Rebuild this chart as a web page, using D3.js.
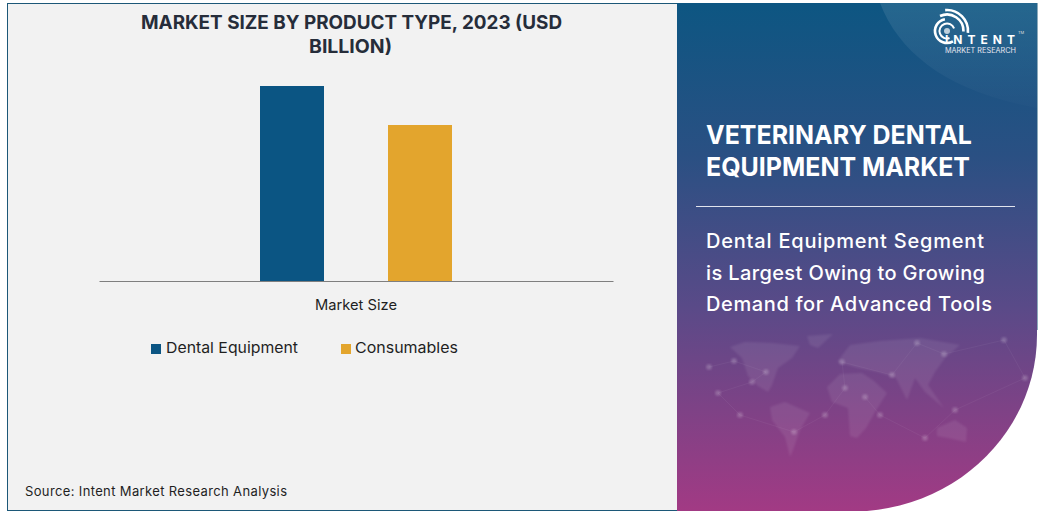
<!DOCTYPE html>
<html><head><meta charset="utf-8">
<script src="https://cdn.jsdelivr.net/npm/d3@7"></script>
<style>html,body{margin:0;padding:0;background:#fff}svg{display:block}text{font-family:Inter,"Open Sans",sans-serif}</style>
</head><body><div id="c"></div>
<script>
const titleLines = ["MARKET SIZE BY PRODUCT TYPE, 2023 (USD","BILLION)"];
const titleWidths = [421,83];
const categories = ["Market Size"];
const seriesNames = ["Dental Equipment","Consumables"];
const seriesValues = [1.0,0.8];
const seriesColors = ["#0b5583","#e3a52d"];
const source = "Source: Intent Market Research Analysis";
const heading = ["VETERINARY DENTAL","EQUIPMENT MARKET"];
const headingWidths = [266,264];
const subheading = ["Dental Equipment Segment","is Largest Owing to Growing","Demand for Advanced Tools"];
const subWidths = [278,279,286];
const legendWidths = [132,103];
const continents = [
 "M730,347 L745,342 L772,343 L800,346 L792,358 L778,368 L772,385 L768,392 L758,386 L748,376 L742,358Z",
 "M807,336 L833,334 L818,348 L810,345Z",
 "M770,407 L785,402 L810,413 L800,430 L793,450 L790,457 L785,437 L772,420Z",
 "M827,387 L840,374 L862,373 L874,381 L887,393 L875,412 L866,428 L857,438 L850,436 L848,408 L832,402Z",
 "M837,362 L850,345 L880,341 L920,338 L960,345 L945,358 L935,372 L928,385 L944,408 L925,392 L915,378 L907,400 L896,378 L878,372 L858,368Z",
 "M937,428 L955,420 L967,428 L966,442 L948,438 L937,436Z"
];
const nodes = [[709,367],[734,361],[766,372],[752,382],[718,393],[740,415],[794,432],[825,415],[845,388],[842,362],[892,375],[917,343],[944,354],[1004,340],[1025,378],[955,410],[925,438],[880,415],[865,397]];

const W=1043,H=513;
const svg=d3.select("#c").append("svg").attr("width",W).attr("height",H);
const defs=svg.append("defs");
const g=defs.append("linearGradient").attr("id","pg").attr("x1",0).attr("y1",0).attr("x2",0).attr("y2",1);
[[0,"#0d5682"],[.3,"#2a5083"],[.6,"#5a4a88"],[1,"#a23a84"]].forEach(d=>g.append("stop").attr("offset",d[0]).attr("stop-color",d[1]));
const g2=defs.append("linearGradient").attr("id","arc").attr("x1",0).attr("y1",0).attr("x2",0).attr("y2",1);
g2.append("stop").attr("offset",0).attr("stop-color","#fff").attr("stop-opacity",.1);
g2.append("stop").attr("offset",1).attr("stop-color","#fff").attr("stop-opacity",.01);
defs.append("filter").attr("id","bl").append("feGaussianBlur").attr("stdDeviation",1);
const glow=defs.append("filter").attr("id","gl"); glow.append("feGaussianBlur").attr("stdDeviation",1.2);

svg.append("rect").attr("x",7.5).attr("y",3.5).attr("width",1029.5).attr("height",507).attr("fill","#f2f2f2").attr("stroke","#1c5878").attr("stroke-width",1);
const panel="M677,3 H1037 V335 C1037,425 965,503 867,511 H677 Z";
svg.append("rect").attr("x",860).attr("y",330).attr("width",183).attr("height",183).attr("fill","#fff");
svg.append("path").attr("d",panel).attr("fill","url(#pg)");
svg.append("path").attr("d","M880,3 C900,55 950,92 1037,108 V3 Z").attr("fill","url(#arc)");

// world map
const map=svg.append("g");
map.selectAll("path.c").data(continents).join("path").attr("d",d=>d).attr("fill","#fff").attr("opacity",.075).attr("filter","url(#bl)");
map.selectAll("line").data(d3.pairs(nodes)).join("line").attr("x1",d=>d[0][0]).attr("y1",d=>d[0][1]).attr("x2",d=>d[1][0]).attr("y2",d=>d[1][1]).attr("stroke","#fff").attr("stroke-width",.5).attr("opacity",.09);
map.selectAll("circle").data(nodes).join("circle").attr("cx",d=>d[0]).attr("cy",d=>d[1]).attr("r",2.8).attr("fill","#fff").attr("opacity",.2).attr("filter","url(#gl)");

// chart
const x0=d3.scaleBand().domain(categories).range([99,613]);
const xs=d3.scaleOrdinal().domain(seriesNames).range([260,388]);
const y=d3.scaleLinear().domain([0,1]).range([281,86]);
svg.append("g").selectAll("rect").data(seriesNames).join("rect")
 .attr("x",d=>xs(d)).attr("width",64).attr("y",(d,i)=>y(seriesValues[i])).attr("height",(d,i)=>y(0)-y(seriesValues[i])).attr("fill",(d,i)=>seriesColors[i]);
const ax=svg.append("g").attr("transform","translate(0,281)").call(d3.axisBottom(x0).tickSize(0).tickPadding(19));
ax.select(".domain").attr("stroke","#7f7f7f").attr("stroke-width",1);
ax.selectAll("text").attr("font-size",14.5).attr("fill","#1f1f1f").style("font-family","Inter,sans-serif").attr("textLength",82).attr("lengthAdjust","spacingAndGlyphs");

svg.append("g").selectAll("text").data(titleLines).join("text").attr("x",(d,i)=>i?309:141).attr("y",(d,i)=>29+i*24).attr("font-size",19).attr("font-weight",700).attr("fill","#262d3a").attr("textLength",(d,i)=>titleWidths[i]).attr("lengthAdjust","spacingAndGlyphs").text(d=>d);

const legendX=[151,341], legendT=[166,355];
seriesNames.forEach((n,i)=>{
 svg.append("rect").attr("x",legendX[i]).attr("y",344).attr("width",10).attr("height",10).attr("fill",seriesColors[i]);
 svg.append("text").attr("x",legendT[i]).attr("y",353).attr("font-size",15).attr("fill","#1f1f1f").attr("textLength",legendWidths[i]).attr("lengthAdjust","spacingAndGlyphs").text(n);
});
svg.append("text").attr("x",25).attr("y",496).attr("font-size",13).attr("fill","#1f1f1f").attr("textLength",262).attr("lengthAdjust","spacing").text(source);

svg.append("g").selectAll("text").data(heading).join("text").attr("x",706).attr("y",(d,i)=>143.5+i*32.2).attr("font-size",26).attr("font-weight",700).attr("fill","#fff").attr("textLength",(d,i)=>headingWidths[i]).attr("lengthAdjust","spacingAndGlyphs").text(d=>d);
svg.append("line").attr("x1",696).attr("x2",1015).attr("y1",206.5).attr("y2",206.5).attr("stroke","#fff").attr("stroke-opacity",.85);
svg.append("g").selectAll("text").data(subheading).join("text").attr("x",706).attr("y",(d,i)=>248+i*31.5).attr("font-size",20).attr("font-weight",500).attr("fill","#fff").attr("textLength",(d,i)=>subWidths[i]).attr("lengthAdjust","spacing").text(d=>d);

// logo
const logo=svg.append("g").attr("transform","translate(947,31)").attr("fill","none").attr("stroke","#fff").attr("stroke-linecap","round");
const deg=Math.PI/180;
[[21,-5,95,2.6],[16.5,-25,92,2.6],[12,-210,-10,2.6],[7.5,-200,70,2]].forEach(([r,a,b,w])=>logo.append("path").attr("stroke-width",w)
 .attr("d",d3.arc()({innerRadius:r,outerRadius:r,startAngle:a*deg,endAngle:b*deg})));
logo.append("circle").attr("r",3).attr("fill","#fff").attr("stroke","none").attr("opacity",.7);
svg.append("text").attr("x",945).attr("y",43.5).attr("font-size",12).attr("font-weight",700).attr("fill","#fff").attr("textLength",70).attr("lengthAdjust","spacing").text("INTENT");
svg.append("text").attr("x",1018).attr("y",34).attr("font-size",4).attr("fill","#ddd").text("TM");
svg.append("text").attr("x",945).attr("y",53).attr("font-size",7).attr("fill","#e6e6f0").attr("textLength",71).attr("lengthAdjust","spacingAndGlyphs").text("MARKET RESEARCH");
</script></body></html>
